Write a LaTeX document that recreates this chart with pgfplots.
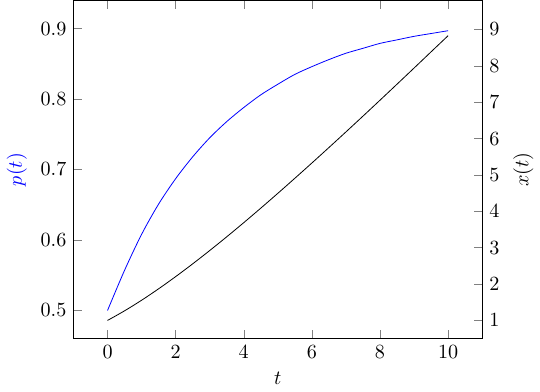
\documentclass[border=0pt]{standalone}
\usepackage{pgfplots}
\pgfplotsset{compat=1.18}
\usepackage{pgfplotstable}
\pgfplotstableread{
t p
0 0.500
0.5 0.557
1 0.608
1.5 0.651
2 0.687
2.5 0.718
3 0.745
3.5 0.768
4 0.788
4.5 0.806
5 0.821
5.5 0.835
6 0.846
6.5 0.856
7 0.865
7.5 0.872
8 0.879
8.5 0.884
9 0.889
9.5 0.893
10 0.897
}\ptable
\pgfplotstableread{
t x
0 1.000
0.5 1.264
1 1.555
1.5 1.870
2 2.205
2.5 2.556
3 2.922
3.5 3.300
4 3.689
4.5 4.088
5 4.495
5.5 4.909
6 5.329
6.5 5.754
7 6.184
7.5 6.618
8 7.056
8.5 7.497
9 7.940
9.5 8.386
10 8.830
}\xtable
\begin{document}
\begin{tikzpicture}
\begin{axis}[
  scale only axis,
  width=203pt, height=168pt,
  xmin=-1, xmax=11,
  ymin=0.46, ymax=0.94,
  xtick={0,2,4,6,8,10},
  ytick={0.5,0.6,0.7,0.8,0.9},
  axis y line*=left,
  xlabel={$t$},
  ylabel={\color{blue}$p(t)$},
]
\addplot[blue, smooth] table[x=t,y=p] {\ptable};
\end{axis}
\begin{axis}[
  scale only axis,
  width=203pt, height=168pt,
  xmin=-1, xmax=11,
  ymin=0.5, ymax=9.8,
  ytick={1,2,3,4,5,6,7,8,9},
  axis y line*=right,
  axis x line=none,
  ylabel={$x(t)$},
]
\addplot[black, smooth] table[x=t,y=x] {\xtable};
\end{axis}
\end{tikzpicture}
\end{document}
